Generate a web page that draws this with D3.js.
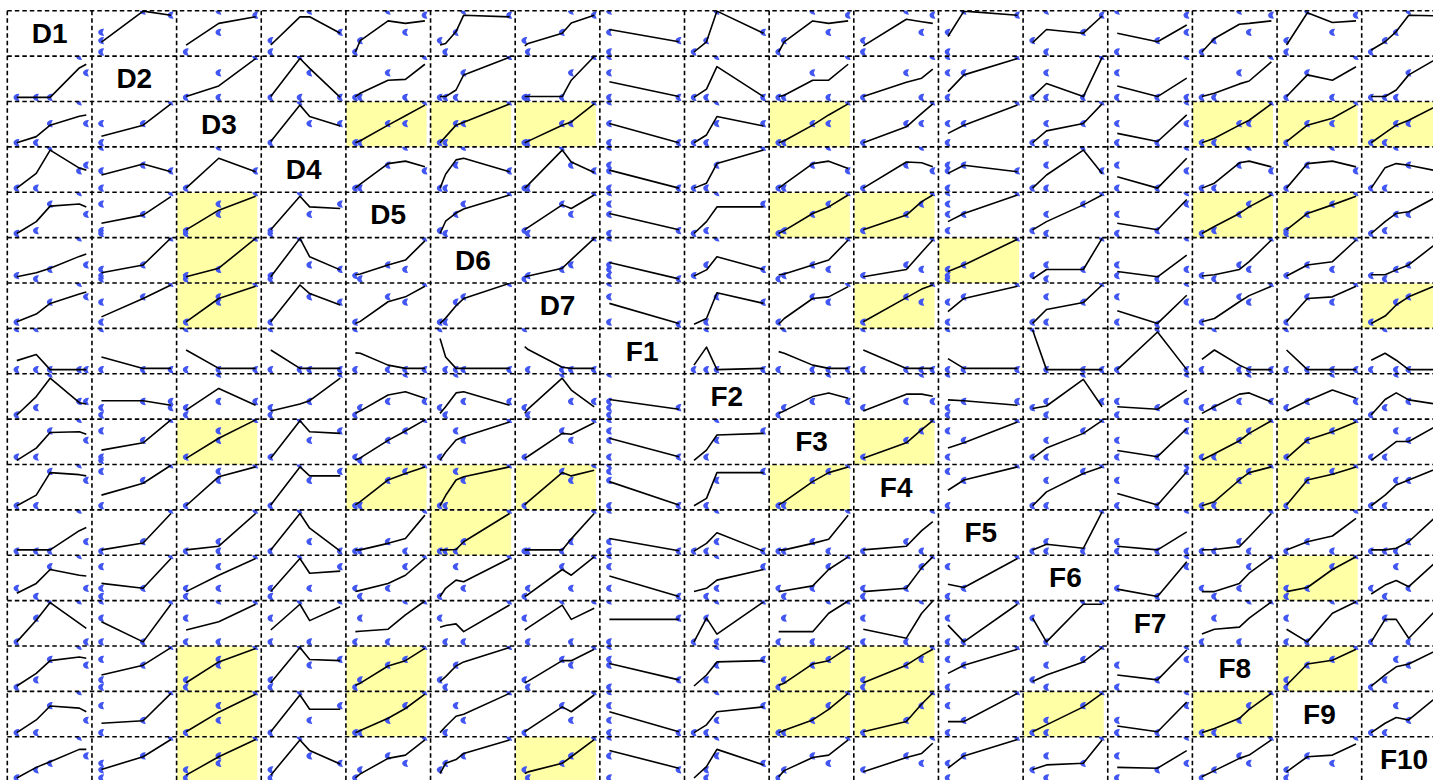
<!DOCTYPE html>
<html>
<head>
<meta charset="utf-8">
<script src="https://cdn.jsdelivr.net/npm/d3@7/dist/d3.min.js"></script>
<style>
  html, body { margin: 0; padding: 0; background: #ffffff; }
  svg { display: block; }
</style>
</head>
<body>
<svg id="chart" width="1433" height="780"></svg>
<script>
// Variables of the matrix, in row/column order
const variables = ["D1","D2","D3","D4","D5","D6","D7","F1","F2","F3","F4","F5","F6","F7","F8","F9","F10"];

// Scaled values (0..1) that each variable takes
const levelValues = [
  [0, .28, .48, .9, 1],      // D1
  [0, .6, 1],                // D2
  [0, .47, 1],               // D3
  [0, .42, .56, 1],          // D4
  [0, .07, .47, .72, 1],     // D5
  [0, .08, .23, .34, 1],     // D6
  [0, .05, .54, .67, 1],     // D7
  [0, 1],                    // F1
  [0, .18, .33, 1],          // F2
  [0, .08, .49, .72, 1],     // F3
  [0, .62, .84, 1],          // F4
  [0, .23, 1],               // F5
  [0, .2, .73, 1],           // F6
  [0, .58, 1],               // F7
  [0, .18, .54, .68, 1],     // F8
  [0, .3, .66, 1],           // F9
  [0, .2, .36, .54, 1]       // F10
];

// Pairs with a significant linear trend (row variable, column variable)
const highlightedCells = [
  ["D3","D5"],["D3","D6"],["D3","D7"],["D3","F3"],["D3","F8"],["D3","F9"],["D3","F10"],
  ["D5","D3"],["D5","F3"],["D5","F4"],["D5","F8"],["D5","F9"],
  ["D6","D3"],["D6","F5"],
  ["D7","D3"],["D7","F4"],["D7","F10"],
  ["F3","D3"],["F3","F4"],["F3","F8"],["F3","F9"],
  ["F4","D5"],["F4","D6"],["F4","D7"],["F4","F3"],["F4","F8"],["F4","F9"],
  ["F5","D6"],
  ["F6","F9"],
  ["F8","D3"],["F8","D5"],["F8","F3"],["F8","F4"],["F8","F9"],
  ["F9","D3"],["F9","D5"],["F9","F3"],["F9","F4"],["F9","F6"],["F9","F8"],
  ["F10","D3"],["F10","D7"]
];

// Mean of the row variable at each value of the column variable
const meansD1 = [null,[.24,1,.9],[.17,.7,.86],[.17,.86,.86,.46],[0,.28,.76,.7,.76],[.17,.21,.5,.9,.86],[.15,.21,.46,.71,.9],[.55,.25],[0,.25,1,.46],[0,.25,.76,.7,.76],[.15,.8,.74,.7],[.38,1,.9],[.23,.55,.46,.88],[.46,.25,.66],[0,.33,.68,.7,.76],[.17,.96,.72,.76],[.05,.25,.5,.9,.88]];
const meansD2 = [[0,0,0,.72,.81],null,[.02,.28,.95],[.02,.95,.71,0],[.02,.1,.42,.44,.81],[.02,.02,.18,.55,.98],[.02,.02,.02,.42,1],[.38,.02],[0,.2,.75,.02],[.02,.05,.42,.42,.81],[.02,.37,.47,.69],[.14,.55,.95],[.02,.34,.02,.98],[.28,.02,.47],[.02,.1,.33,.4,.87],[.02,.55,.42,.75],[.02,.02,.18,.55,1]];
const meansD3 = [[0,.15,.43,.65,.68],[.16,.43,.95],null,[.03,.92,.64,.41],[0,.05,.43,.66,.92],[0,.15,.43,.5,.95],[0,.04,.43,.51,.95],[.47,0],[0,.19,.64,.41],[0,.05,.43,.68,.95],[0,.39,.72,.95],[.23,.43,.92],[0,.29,.47,.95],[.23,.03,.68],[0,.11,.43,.55,.95],[.03,.43,.6,.92],[0,.24,.43,.55,.95]];
const meansD4 = [[0,.36,.93,.49,.44],[.32,.59,.4],[0,.73,.4],null,[0,.1,.6,.66,.52],[0,.34,.69,.73,.4],[0,.08,.93,.64,.38],[.44,0],[0,.12,.6,.93],[0,.1,.6,.66,.48],[0,.64,.62,.52],[.36,.56,.4],[0,.32,.93,.36],[.28,0,.73],[0,.12,.62,.66,.52],[0,.6,.66,.52],[0,.5,.6,.56,.4]];
const meansD5 = [[0,.29,.67,.72,.65],[.25,.45,.9],[.09,.57,.91],[.09,.91,.65,.61],null,[0,.3,.5,.6,.94],[.09,.15,.7,.61,.94],[.49,.09],[0,.29,.65,.65],[0,.07,.49,.65,.94],[.09,.45,.78,.94],[.29,.49,.94],[.09,.29,.7,.94],[.25,.09,.83],[0,.17,.49,.65,.94],[.09,.49,.7,.91],[0,.29,.49,.53,.95]];
const meansD6 = [[.05,.15,.26,.55,.61],[.15,.34,1],[.05,.26,.99],[.05,.99,.54,.22],[.1,.12,.34,.46,.93],null,[.05,.07,.26,.47,.99],[.4,0],[.07,.22,.54,.23],[.1,.12,.34,.46,.95],[.05,.23,.65,.95],[.18,.34,.97],[0,.23,.23,.99],[.18,.05,.58],[.07,.1,.23,.42,.95],[.07,.34,.42,.95],[.1,.1,.22,.34,.95]];
const meansD7 = [[.06,.25,.51,.74,.79],[.18,.63,.96],[.06,.63,.93],[.06,.96,.75,.47],[.02,.07,.55,.67,.93],[.02,.15,.45,.63,1],null,[.51,.02],[0,.14,.77,.51],[0,.14,.63,.67,.92],[.06,.65,.86,.96],[.31,.63,.93],[.02,.36,.53,.96],[.33,.02,.71],[.06,.14,.55,.7,.93],[.06,.63,.67,.93],[.02,.2,.47,.67,1]];
const meansF1 = [[.22,.37,0,0,0],[.31,.03,.03],[.48,.03,.03],[.48,.03,.03,.03],[.41,.4,.11,.03,.03],[.76,.31,.03,.03,.03],[.56,.49,.06,.03,.03],null,[.11,.55,0,.03],[.44,.4,.11,.03,.03],[.48,.03,.03,.03],[.27,.03,.03],[.97,0,0,0],[0,.92,0],[.25,.48,.11,0,0],[.48,0,0,0],[.23,.4,.23,0,0]];
const meansF2 = [[0,.45,.9,.3,.27],[.35,.35,.24],[.12,.65,.24],[.1,.27,.35,.9],[.04,.1,.49,.57,.41],[.04,.2,.54,.57,.24],[.04,.15,.9,.61,.2],[.38,.14],null,[.04,.1,.45,.54,.41],[.1,.51,.51,.46],[.37,.35,.24],[.16,.22,.87,.2],[.2,.14,.61],[.04,.2,.51,.54,.32],[.1,.35,.61,.41],[0,.38,.54,.37,.25]];
const meansF3 = [[0,.3,.68,.7,.64],[.25,.43,.99],[.05,.54,.99],[.05,.97,.7,.66],[.01,.06,.49,.72,.99],[0,.2,.5,.58,.94],[.05,.1,.66,.64,.92],[.54,.09],[0,.25,.62,.66],null,[.05,.43,.75,.97],[.3,.43,.94],[.05,.3,.66,.97],[.24,.09,.78],[.01,.16,.48,.66,.97],[.05,.5,.7,.94],[0,.25,.46,.46,.9]];
const meansF4 = [[0,.26,.81,.76,.73],[.26,.55,.99],[0,.71,.95],[.02,.95,.73,.73],[.02,.1,.63,.79,.95],[0,.25,.63,.71,.95],[.02,.1,.81,.73,.87],[.59,.02],[0,.18,.81,.81],[.02,.1,.59,.81,.95],null,[.38,.63,.95],[0,.34,.79,.95],[.3,.02,.83],[0,.1,.63,.81,.95],[.02,.63,.77,.95],[0,.26,.51,.63,.95]];
const meansF5 = [[.03,.03,.03,.5,.58],[.03,.2,.92],[.03,.12,.92],[.03,.92,.56,0],[.03,.03,.19,.31,.88],[.03,.03,.04,.23,.92],[.03,.03,.03,.3,.92],[.31,.01],[0,.19,.45,0],[.03,.03,.19,.29,.88],[.03,.12,.5,.72],null,[.03,.17,.07,.96],[.12,.03,.47],[.03,.04,.11,.35,.92],[.03,.23,.37,.8],[.03,.03,.07,.23,.95]];
const meansF6 = [[.08,.32,.66,.52,.5],[.32,.2,.93],[.12,.52,.93],[.12,.93,.57,.62],[.12,.15,.32,.52,.93],[0,.2,.4,.36,.93],[0,.05,.66,.52,.97],[.5,0],[.12,.2,.4,.66],[.12,.14,.26,.66,.97],[.12,.2,.7,.97],[.3,.22,.93],null,[.18,0,.85],[.12,.12,.32,.57,.97],[.12,.22,.66,.97],[.06,.28,.39,.24,.95]];
const meansF7 = [[0,.53,.96,.45,.33],[.49,0,.92],[.29,.49,.92],[.29,.92,.52,.86],[.25,.26,.31,.66,1],[.36,.4,.44,.25,.9],[.29,.35,.9,.55,.82],[.55,.55],[0,.58,.19,.98],[.25,.25,.25,.7,1],[.31,.09,.7,1],[.41,0,.92],[.58,0,.92,.92],null,[.19,.31,.36,.58,.98],[.31,0,.7,.98],[0,.55,.55,.09,.9]];
const meansF8 = [[.03,.34,.65,.74,.71],[.3,.54,.97],[.11,.62,.95],[.11,.97,.68,.65],[.05,.1,.52,.65,.95],[.14,.26,.52,.62,.97],[.11,.15,.65,.65,.93],[.58,.18],[.03,.3,.62,.65],[.05,.1,.57,.65,.97],[.11,.54,.78,.93],[.34,.54,.93],[.14,.3,.62,.97],[.3,.18,.91],null,[.05,.57,.66,.93],[.03,.3,.5,.57,.95]];
const meansF9 = [[0,.31,.65,.6,.51],[.23,.29,.96],[.02,.5,.94],[.02,.92,.57,.57],[0,.05,.35,.59,.94],[0,.15,.4,.45,.96],[.02,.08,.63,.51,.92],[.51,.02],[0,.19,.51,.63],[0,.06,.31,.57,.96],[.02,.27,.7,.97],[.27,.27,.96],[.02,.19,.63,.96],[.16,.02,.75],[0,.1,.35,.57,.96],null,[0,.23,.37,.31,.95]];
const meansF10 = [[0,.26,.4,.7,.7],[.21,.52,.94],[.07,.52,.94],[.07,.93,.67,.34],[0,.1,.48,.56,.93],[.11,.36,.45,.6,.93],[.11,.15,.36,.52,.94],[.67,.24],[0,.28,.7,.32],[.03,.18,.5,.56,.93],[.15,.5,.6,.85],[.24,.54,.94],[.21,.32,.36,.93],[.26,.24,.67],[.03,.18,.48,.56,.93],[.15,.52,.56,.83],null];

// Observed value combinations: [column variable, row variable]
const pointsD1 = [null,
  [[0,0],[0,.28],[0,.48],[.6,1],[1,.9]],
  [[0,0],[.47,.48],[.47,1],[1,.9]],
  [[0,.28],[0,0],[.56,1],[1,.48]],
  [[0,0],[.07,.28],[.47,1],[.72,.48],[1,.9]],
  [[0,.28],[.08,0],[.23,.48],[.34,1],[1,.9]],
  [[0,.28],[.05,0],[.54,.48],[.67,1],[1,.9]],
  [[0,1],[0,.48],[0,0],[1,.28]],
  [[0,0],[.18,.28],[.33,1],[1,.48]],
  [[0,0],[.08,.28],[.49,1],[.72,.48],[1,.9]],
  [[0,0],[0,.28],[.62,1],[.84,.48],[1,.9]],
  [[0,0],[0,.48],[.23,1],[1,.9]],
  [[0,.28],[.2,0],[.2,1],[.73,.48],[1,.9]],
  [[0,1],[0,0],[.58,.28],[1,.9],[1,.48]],
  [[0,0],[.18,.28],[.54,1],[.68,.48],[1,.9]],
  [[0,0],[0,.28],[.3,1],[.66,.48],[1,.9]],
  [[0,0],[.2,.28],[.36,.48],[.54,1],[1,.9]]];
const pointsD2 = [
  [[0,0],[.28,0],[.48,0],[1,.6],[.9,1]], null,
  [[0,0],[.47,.6],[.47,0],[1,1]],
  [[0,0],[.42,1],[.42,0],[.56,.6],[1,0]],
  [[0,0],[.07,0],[.47,.6],[.72,0],[1,1]],
  [[0,0],[.08,0],[.23,0],[.34,.6],[1,1]],
  [[0,0],[.05,0],[.54,0],[.67,.6],[1,1]],
  [[0,1],[0,.6],[0,0],[1,0]],
  [[0,0],[.18,0],[.33,1],[1,0]],
  [[0,0],[.08,0],[.49,.6],[.72,0],[1,1]],
  [[0,0],[.62,.6],[.84,0],[1,1]],
  [[0,1],[0,.6],[0,0],[.23,.6],[1,1]],
  [[0,0],[.2,.6],[.2,0],[.73,0],[1,1]],
  [[0,.6],[0,0],[.58,0],[1,1],[1,0]],
  [[0,0],[.18,0],[.54,.6],[1,1]],
  [[0,0],[.3,.6],[.66,0],[1,1]],
  [[0,0],[.2,0],[.36,0],[.54,.6]]];
const pointsD3 = [
  [[0,0],[.28,0],[.48,.47],[1,.47],[.9,1]],
  [[0,.47],[0,0],[.6,.47],[1,1]], null,
  [[0,0],[.42,1],[.56,.47],[1,.47]],
  [[0,0],[.07,0],[.47,.47],[.72,.47],[1,1]],
  [[0,0],[.08,0],[.23,.47],[.34,.47],[1,1]],
  [[0,0],[.05,0],[.54,.47],[.67,.47],[1,1]],
  [[0,1],[0,.47],[0,0],[1,0]],
  [[0,0],[.18,0],[.33,1],[.33,.47],[1,.47]],
  [[0,0],[.08,0],[.49,.47],[.72,.47],[1,1]],
  [[0,0],[.62,.47],[.84,.47],[1,1]],
  [[0,.47],[0,0],[.23,.47],[1,1]],
  [[0,0],[.2,.47],[.2,0],[.73,.47],[1,1]],
  [[0,.47],[0,0],[.58,0],[1,1],[1,.47]],
  [[0,0],[.18,0],[.54,.47],[.68,.47],[1,1]],
  [[0,0],[.3,.47],[.66,.47],[1,1]],
  [[0,0],[.2,0],[.36,.47],[.54,.47]]];
const pointsD4 = [
  [[0,0],[.28,0],[.48,1],[.9,.42],[1,.56]],
  [[0,1],[0,.42],[0,0],[.6,.56],[1,.42]],
  [[0,0],[.47,1],[1,.42]], null,
  [[0,0],[.07,0],[.47,.56],[.72,1],[1,.42]],
  [[0,0],[.08,0],[.23,.56],[.34,1],[1,.42]],
  [[0,0],[.05,0],[.54,1],[.67,.56],[1,.42]],
  [[0,1],[0,.56],[0,.42],[0,0],[1,0]],
  [[0,0],[.18,0],[.33,.56],[1,1]],
  [[0,0],[.08,0],[.49,.56],[.72,1],[1,.42]],
  [[0,0],[.62,.56],[.84,1],[1,.42]],
  [[0,.56],[0,.42],[0,0],[.23,.56],[1,.42]],
  [[0,0],[.2,.56],[.2,0],[.73,1],[1,.42]],
  [[0,.56],[0,0],[.58,0],[1,1],[1,.42]],
  [[0,0],[.18,0],[.54,.56],[.68,1],[1,.42]],
  [[0,0],[.3,.56],[.66,1],[1,.42]],
  [[0,0],[.2,0],[.36,1],[.54,.56]]];
const pointsD5 = [
  [[0,0],[.28,.07],[.48,.72],[1,.47],[.9,1]],
  [[0,.72],[0,.07],[0,0],[.6,.47],[1,1]],
  [[0,.07],[0,0],[.47,.72],[.47,.47],[1,1]],
  [[0,0],[0,.07],[.42,1],[.56,.47],[1,.72]], null,
  [[0,.07],[.08,0],[.23,.47],[.34,.72],[1,1]],
  [[0,.07],[.05,0],[.54,.72],[.67,.47],[1,1]],
  [[0,1],[0,.72],[0,.47],[0,0],[1,.07]],
  [[0,0],[.18,.07],[.33,1],[1,.72]],
  [[0,0],[.08,.07],[.49,.47],[.72,.72],[1,1]],
  [[0,.07],[.62,.47],[.84,.72],[1,1]],
  [[0,1],[0,.72],[0,.47],[0,.07],[.23,.47],[1,1]],
  [[0,.07],[.2,.47],[.2,0],[.73,.72],[1,1]],
  [[0,.47],[0,0],[.58,.07],[1,1],[1,.72]],
  [[0,0],[.18,.07],[.54,.47],[.68,.72],[1,1]],
  [[0,.07],[0,0],[.3,.47],[.66,.72],[1,1]],
  [[0,0],[.2,.07],[.36,.47],[.54,.47]]];
const pointsD6 = [
  [[0,.08],[.28,0],[.48,.23],[1,.34],[.9,1]],
  [[0,.23],[0,.08],[0,0],[.6,.34],[1,1]],
  [[0,.08],[0,0],[.47,.23],[1,1]],
  [[0,.08],[0,0],[.42,1],[.56,.34],[1,.23]],
  [[0,.08],[.07,0],[.47,.34],[.72,.23],[1,1]], null,
  [[0,0],[.05,.08],[.54,.23],[.67,.34],[1,1]],
  [[0,1],[0,.34],[0,.23],[0,.08],[1,0]],
  [[0,.08],[.18,.34],[.33,1],[1,.23]],
  [[0,0],[.08,.08],[.49,.34],[.72,.23],[1,1]],
  [[0,.08],[.62,.34],[.84,.23],[1,1]],
  [[0,.23],[0,.08],[0,0],[.23,.34],[1,1]],
  [[0,.08],[.2,.34],[.2,0],[.73,.23],[1,1]],
  [[0,.34],[0,.08],[.58,0],[1,.23],[1,1]],
  [[0,.08],[.18,0],[.54,.34],[.68,.23],[1,1]],
  [[0,.08],[.3,.34],[.66,.23],[1,1]],
  [[0,.08],[.2,0],[.36,.23],[.54,.34]]];
const pointsD7 = [
  [[0,.05],[.48,.54],[1,.67],[.9,1]],
  [[0,.54],[0,.05],[.6,.67],[1,1]],
  [[0,.05],[.47,.67],[.47,.54],[1,1]],
  [[0,.05],[.56,.67],[1,.54]],
  [[0,.05],[.47,.67],[.72,.54],[1,1]],
  [[0,.05],[.08,.05],[.23,.54],[.34,.67],[1,1]], null,
  [[0,1],[0,.67],[0,.05],[1,0]],
  [[.18,.05],[.33,.67],[1,.54]],
  [[0,.05],[.49,.67],[.72,.54],[1,1]],
  [[0,.05],[.62,.67],[.84,.54],[1,1]],
  [[0,.54],[0,.05],[.23,.67],[1,1]],
  [[0,.05],[.2,.67],[.2,.05],[.73,.54],[1,1]],
  [[0,.67],[0,.05],[.58,0],[1,1],[1,.54]],
  [[0,.05],[.54,.67],[.68,.54],[1,1]],
  [[0,.05],[.3,.67],[.66,.54],[1,1]],
  [[0,.05],[.36,.54],[.54,.67]]];
const pointsF1 = [
  [[0,0],[.28,0],[.48,0],[.9,0],[1,0],[0,1],[.28,1]],
  [[0,1],[0,0],[.6,0],[1,0]],
  [[0,1],[0,0],[.47,0],[1,0]],
  [[0,1],[0,0],[.42,0],[.56,0],[1,0]],
  [[0,1],[0,0],[.47,0],[.72,0],[1,0]],
  [[0,1],[.08,0],[.23,0],[.34,0],[1,0]],
  [[0,1],[.05,0],[.54,0],[.67,0],[1,0]], null,
  [[0,0],[.18,0],[.33,0],[.18,1],[1,0]],
  [[0,0],[.08,1],[.49,0],[.72,0],[1,0]],
  [[0,0],[0,1],[.62,0],[.84,0],[1,0]],
  [[0,0],[0,1],[.23,0],[1,0]],
  [[0,1],[.2,0],[.73,0],[1,0]],
  [[0,0],[.58,1],[1,0]],
  [[0,0],[.18,1],[.54,0],[.68,0],[1,0]],
  [[0,0],[0,1],[.3,0],[.66,0],[1,0]],
  [[0,0],[.2,1],[.36,0],[.54,0]]];
const pointsF2 = [
  [[0,0],[.28,.18],[.48,1],[.9,.33],[1,.33]],
  [[0,.18],[0,0],[.6,.33],[1,.33],[1,.18]],
  [[0,.18],[0,0],[.47,.33],[.47,1],[1,.33]],
  [[0,.18],[0,0],[.56,.33],[1,1]],
  [[0,0],[.07,.18],[.47,.33],[.72,1],[1,.33]],
  [[0,.18],[.08,0],[.23,1],[.34,.33],[1,.33]],
  [[0,.18],[.05,0],[.54,1],[.67,.33],[1,.33]],
  [[0,1],[0,.33],[0,.18],[0,0],[1,.18]], null,
  [[0,0],[.08,.18],[.49,.33],[.72,1],[1,.33]],
  [[0,.18],[.62,.33],[.84,1],[1,.33]],
  [[0,1],[0,.18],[0,0],[.23,.33],[1,.33]],
  [[0,.18],[.2,.33],[.2,0],[.73,1],[1,.33]],
  [[0,.33],[0,0],[.58,.18],[1,1],[1,.33]],
  [[0,.18],[.18,.18],[.54,.33],[.68,1],[1,.33]],
  [[0,.18],[.3,.33],[.66,1],[1,.33]],
  [[0,0],[.2,.18],[.36,1],[.54,.33]]];
const pointsF3 = [
  [[0,.08],[.28,.08],[.48,.72],[1,.49],[.9,1]],
  [[0,.72],[0,.08],[0,0],[.6,.49],[1,1]],
  [[0,.08],[.47,.72],[.47,.49],[1,1]],
  [[0,.08],[.42,1],[.56,.49],[1,.72]],
  [[0,.08],[.07,0],[.47,.49],[.72,.72],[1,1]],
  [[0,.08],[.23,.72],[.34,.49],[1,1]],
  [[0,.08],[.54,.72],[.67,.49],[1,1]],
  [[0,1],[0,.72],[0,.49],[0,.08],[1,.08]],
  [[.18,.08],[.33,1],[.33,.49],[1,.72]], null,
  [[0,.08],[.62,.49],[.84,.72],[1,1]],
  [[0,.72],[0,.08],[.23,.49],[1,1]],
  [[0,.08],[.2,.49],[.2,.08],[.73,.72],[1,1]],
  [[0,.49],[0,.08],[.58,.08],[1,1],[1,.72]],
  [[0,.08],[.18,.08],[.54,.49],[.68,.72],[1,1]],
  [[0,.08],[.3,.49],[.66,.72],[1,1]],
  [[0,.08],[.2,.08],[.36,.72],[.54,.49]]];
const pointsF4 = [
  [[0,0],[.28,0],[.48,.84],[1,.62],[.9,1]],
  [[0,.84],[0,0],[.6,.62],[1,1]],
  [[0,0],[.47,.84],[.47,.62],[1,1]],
  [[0,0],[.42,1],[.56,.62],[1,.84]],
  [[0,0],[.07,0],[.47,.62],[.72,.84],[1,1]],
  [[0,0],[.08,0],[.23,.84],[.34,.62],[1,1]],
  [[0,0],[.54,.84],[.67,.62],[1,1]],
  [[0,1],[0,.84],[0,.62],[0,0],[1,0]],
  [[.18,0],[.33,.62],[1,.84]],
  [[0,0],[.08,0],[.49,.62],[.72,.84],[1,1]], null,
  [[0,.84],[0,0],[.23,.62],[1,1]],
  [[0,0],[.2,.62],[.2,0],[.73,.84],[1,1]],
  [[0,.62],[0,0],[.58,0],[1,1],[1,.84]],
  [[0,0],[.18,0],[.54,.62],[.68,.84],[1,1]],
  [[0,0],[.3,.62],[.66,.84],[1,1]],
  [[0,0],[.2,0],[.36,.62],[.54,.62]]];
const pointsF5 = [
  [[0,0],[.28,0],[.48,0],[1,.23],[.9,1]],
  [[0,0],[.6,.23],[1,1]],
  [[0,0],[.47,.23],[.47,0],[1,1]],
  [[0,0],[.42,1],[.56,.23],[1,0]],
  [[0,0],[.07,0],[.47,.23],[.72,0],[1,1]],
  [[0,0],[.08,0],[.23,0],[.34,.23],[1,1]],
  [[0,0],[.05,0],[.54,0],[.67,.23],[1,1]],
  [[0,1],[0,.23],[0,0],[1,0]],
  [[0,0],[.18,0],[.33,1],[.33,.23],[1,0]],
  [[0,0],[.08,0],[.49,.23],[.72,0],[1,1]],
  [[0,0],[.62,.23],[.84,0],[1,1]], null,
  [[0,0],[.2,.23],[.2,0],[.73,0],[1,1]],
  [[0,.23],[0,0],[.58,0],[1,1],[1,0]],
  [[0,0],[.18,0],[.54,.23],[.68,0],[1,1]],
  [[0,0],[.3,.23],[.66,0],[1,1]],
  [[0,0],[.2,0],[.36,0],[.54,.23]]];
const pointsF6 = [
  [[0,.2],[.28,0],[.48,.73],[1,.2],[.9,1]],
  [[0,.73],[0,.2],[0,0],[.6,.2],[1,1]],
  [[0,.2],[0,0],[.47,.73],[.47,.2],[1,1]],
  [[0,.2],[0,0],[.42,1],[.56,.2],[1,.73]],
  [[0,.2],[.07,0],[.47,.2],[.72,.73],[1,1]],
  [[0,0],[.23,.73],[.34,.2],[1,1]],
  [[0,0],[.05,.2],[.54,.73],[.67,.2],[1,1]],
  [[0,1],[0,.73],[0,.2],[1,0]],
  [[.18,0],[.33,1],[.33,.2],[1,.73]],
  [[0,.2],[.08,0],[.49,.2],[.72,.73],[1,1]],
  [[0,.2],[0,0],[.62,.2],[.84,.73],[1,1]],
  [[0,.73],[0,0],[.23,.2],[1,1]], null,
  [[0,.2],[.58,0],[1,1],[1,.73]],
  [[0,.2],[.18,0],[.54,.2],[.68,.73],[1,1]],
  [[0,.2],[0,0],[.3,.2],[.66,.73],[1,1]],
  [[0,.2],[.2,0],[.36,.73],[.54,.2]]];
const pointsF7 = [
  [[0,0],[.28,.58],[.48,1],[1,0],[.9,1]],
  [[0,1],[0,.58],[0,0],[.6,0],[1,1]],
  [[0,.58],[0,0],[.47,1],[.47,0],[1,1]],
  [[0,.58],[0,0],[.42,1],[.56,0],[1,1]],
  [[0,0],[.07,.58],[.47,0],[.72,1],[1,1]],
  [[0,.58],[.08,0],[.34,0],[1,1]],
  [[0,.58],[.05,0],[.54,1],[.67,0],[1,1]],
  [[0,1],[0,0],[1,.58]],
  [[0,0],[.18,.58],[.33,1],[.33,0],[1,1]],
  [[0,0],[.08,.58],[.49,0],[.72,1],[1,1]],
  [[0,.58],[0,0],[.62,0],[.84,1]],
  [[0,.58],[0,0],[.23,0],[1,1]],
  [[0,.58],[.2,0],[.73,1],[1,1]], null,
  [[0,0],[.18,.58],[.54,0],[.68,1],[1,1]],
  [[0,.58],[0,0],[.3,0],[.66,1],[1,1]],
  [[0,0],[.2,.58],[.54,0]]];
const pointsF8 = [
  [[0,0],[.28,.18],[.48,.68],[1,.54],[.9,1]],
  [[0,.68],[0,.18],[0,0],[.6,.54],[1,1]],
  [[0,.18],[0,0],[.47,.68],[.47,.54],[1,1]],
  [[0,.18],[0,0],[.42,1],[.56,.54],[1,.68]],
  [[0,0],[.07,.18],[.47,.54],[.72,.68],[1,1]],
  [[0,.18],[.08,0],[.23,.54],[1,1]],
  [[0,.18],[.05,0],[.54,.68],[.67,.54],[1,1]],
  [[0,1],[0,.68],[0,.54],[0,0],[1,.18]],
  [[.18,.18],[.33,1],[.33,.54],[1,.68]],
  [[0,0],[.08,.18],[.49,.54],[.72,.68],[1,1]],
  [[0,.18],[0,0],[.62,.54],[.84,.68],[1,1]],
  [[0,.68],[0,0],[.23,.54],[1,1]],
  [[0,.18],[.2,.54],[.2,0],[.73,.68],[1,1]],
  [[0,.54],[0,0],[.58,.18],[1,1],[1,.68]], null,
  [[0,.18],[0,0],[.3,.54],[.66,.68],[1,1]],
  [[0,0],[.2,.18],[.36,.68],[.54,.54]]];
const pointsF9 = [
  [[0,0],[.28,0],[.48,.66],[1,.3],[.9,1]],
  [[0,.66],[0,0],[.6,.3],[1,1]],
  [[0,0],[.47,.66],[.47,.3],[1,1]],
  [[0,0],[.42,1],[.56,.3],[1,.66]],
  [[0,0],[.07,0],[.47,.3],[.72,.66],[1,1]],
  [[.08,0],[.23,.66],[.34,.3],[1,1]],
  [[0,0],[.54,.66],[.67,.3],[1,1]],
  [[0,1],[0,.66],[0,.3],[0,0],[1,0]],
  [[0,0],[.18,0],[.33,1],[.33,.3],[1,.66]],
  [[0,0],[.08,0],[.49,.3],[.72,.66],[1,1]],
  [[0,0],[.62,.3],[.84,.66],[1,1]],
  [[0,.66],[0,0],[.23,.3],[1,1]],
  [[0,0],[.2,.3],[.2,0],[.73,.66],[1,1]],
  [[0,.3],[0,0],[.58,0],[1,1],[1,.66]],
  [[0,0],[.18,0],[.54,.3],[.68,.66],[1,1]], null,
  [[0,0],[.2,0],[.36,.66],[.54,.3]]];
const pointsF10 = [
  [[0,0],[.28,.2],[.48,.36],[1,.54],[.9,1]],
  [[0,.36],[0,.2],[0,0],[.6,.54],[1,1]],
  [[0,.2],[0,0],[.47,.54],[.47,.36],[1,1]],
  [[0,.2],[0,0],[.42,1],[.56,.54],[1,.36]],
  [[0,0],[.07,.2],[.47,.54],[.72,.36],[1,1]],
  [[0,.2],[.08,.36],[.34,.54],[1,1]],
  [[0,.2],[.05,0],[.54,.36],[.67,.54],[1,1]],
  [[0,1],[0,.54],[0,0],[1,.2]],
  [[.18,.2],[.18,0],[.33,1],[.33,.54],[1,.36]],
  [[0,0],[.08,.2],[.49,.54],[.72,.36],[1,1]],
  [[0,.2],[.62,.54],[.84,.36],[1,1]],
  [[0,.36],[0,0],[.23,.54],[1,1]],
  [[0,.2],[.2,.54],[.2,0],[.73,.36],[1,1]],
  [[0,.54],[0,0],[.58,.2],[1,1],[1,.36]],
  [[0,0],[.18,.2],[.54,.54],[.68,.36],[1,1]],
  [[0,.2],[0,0],[.3,.54],[.66,.36],[1,1]], null];

const meanRows = [meansD1, meansD2, meansD3, meansD4, meansD5, meansD6, meansD7, meansF1, meansF2,
                  meansF3, meansF4, meansF5, meansF6, meansF7, meansF8, meansF9, meansF10];
const pointRows = [pointsD1, pointsD2, pointsD3, pointsD4, pointsD5, pointsD6, pointsD7, pointsF1, pointsF2,
                   pointsF3, pointsF4, pointsF5, pointsF6, pointsF7, pointsF8, pointsF9, pointsF10];

// ---- layout ----
const n = variables.length;
const cellW = 84.65, cellH = 45.375;
const originX = 7.3, originY = 10.7;

const gridX = d3.scaleLinear().domain([0, n]).range([originX, originX + n * cellW]);
const gridY = d3.scaleLinear().domain([0, n]).range([originY, originY + n * cellH]);

const svg = d3.select("#chart");
svg.append("rect").attr("width", 1433).attr("height", 780).attr("fill", "#ffffff");

const defs = svg.append("defs");
const plotLayer = svg.append("g");
const gridLayer = svg.append("g");
const labelLayer = svg.append("g");

const highlightSet = new Set(highlightedCells.map(d => d[0] + "|" + d[1]));

// marker: small blue blob, rounded on the left with a shallow notch on the right
const markerPath = "M2.6,-3.6 C-1,-3.9 -3.3,-1.9 -3.3,0 C-3.3,1.9 -1,3.9 2.6,3.6 L1.1,0 Z";

const line = d3.line();

for (let r = 0; r < n; r++) {
  for (let c = 0; c < n; c++) {
    const left = gridX(c), top = gridY(r);
    const id = "clip-" + r + "-" + c;
    defs.append("clipPath").attr("id", id)
      .append("rect").attr("x", left).attr("y", top).attr("width", cellW).attr("height", cellH);

    const g = plotLayer.append("g").attr("clip-path", "url(#" + id + ")");

    if (r === c) continue;

    if (highlightSet.has(variables[r] + "|" + variables[c])) {
      g.append("rect")
        .attr("x", left + 0.5).attr("y", top + 0.5)
        .attr("width", cellW - 4.5).attr("height", cellH + 1.5)
        .attr("fill", "#ffffa6");
    }

    const x = d3.scaleLinear().domain([0, 1]).range([left + 9.5, left + 79]);
    const y = d3.scaleLinear().domain([0, 1]).range([top + 41.3, top + 0.4]);

    const pts = pointRows[r][c] || [];
    g.selectAll("path.pt").data(pts).join("path")
      .attr("class", "pt")
      .attr("d", markerPath)
      .attr("transform", d => "translate(" + x(d[0]) + "," + y(d[1]) + ")")
      .attr("fill", "#4257f2");

    const means = meanRows[r][c];
    if (means) {
      const xs = levelValues[c];
      const coords = means.map((m, i) => [x(xs[i]), y(m)]);
      g.append("path")
        .attr("d", line(coords))
        .attr("fill", "none")
        .attr("stroke", "#000")
        .attr("stroke-width", 1.6)
        .attr("stroke-linejoin", "round");
    }
  }
}

// dashed cell borders
const ticks = d3.range(0, n + 1);
gridLayer.selectAll("line.v").data(ticks).join("line")
  .attr("x1", d => gridX(d)).attr("x2", d => gridX(d))
  .attr("y1", gridY(0)).attr("y2", gridY(n))
  .attr("stroke", "#000").attr("stroke-width", 1.6).attr("stroke-dasharray", "4.5,3");
gridLayer.selectAll("line.h").data(ticks).join("line")
  .attr("y1", d => gridY(d)).attr("y2", d => gridY(d))
  .attr("x1", gridX(0)).attr("x2", gridX(n))
  .attr("stroke", "#000").attr("stroke-width", 1.6).attr("stroke-dasharray", "4.5,3");

// variable names on the diagonal
labelLayer.selectAll("text").data(variables).join("text")
  .attr("x", (d, i) => gridX(i) + cellW / 2)
  .attr("y", (d, i) => gridY(i) + cellH / 2 + 9.5)
  .attr("text-anchor", "middle")
  .attr("font-family", "'Liberation Sans', Arial, sans-serif")
  .attr("font-weight", "bold")
  .attr("font-size", 28)
  .attr("fill", "#000")
  .text(d => d);
</script>
</body>
</html>
